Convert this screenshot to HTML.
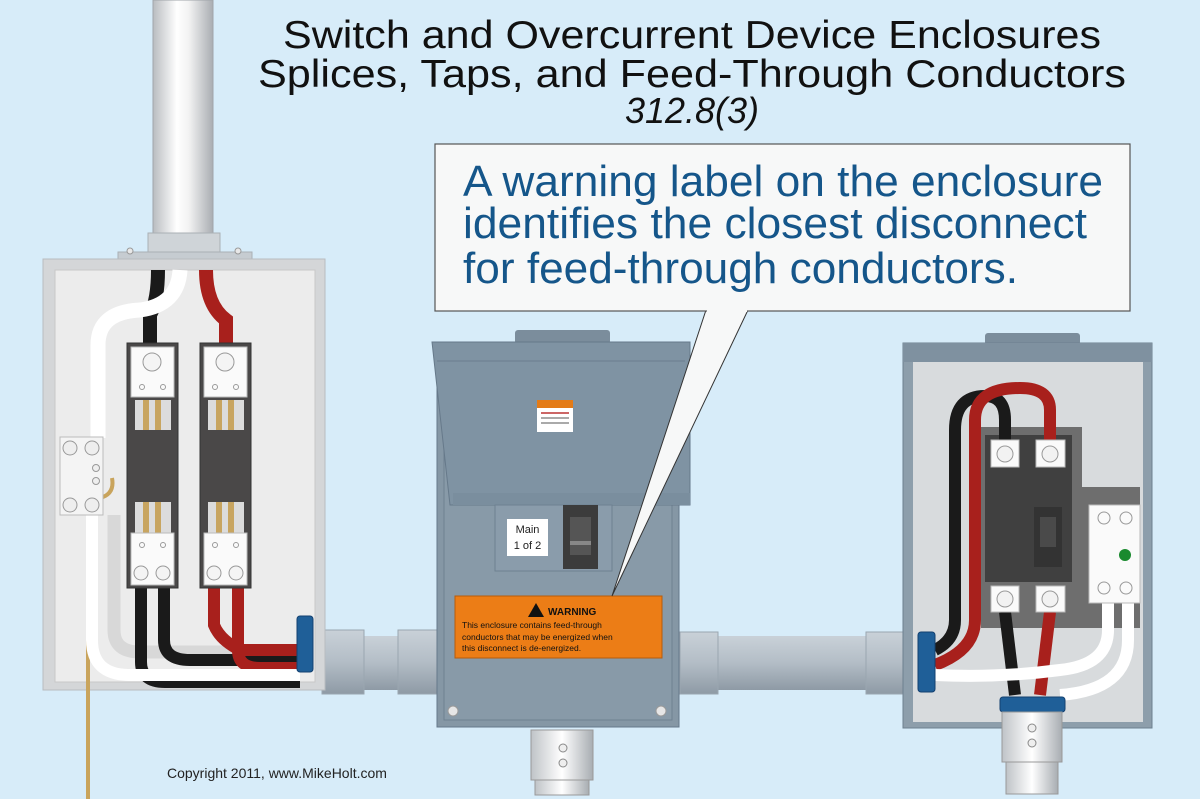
<!DOCTYPE html>
<html><head><meta charset="utf-8"><style>html,body{margin:0;padding:0;background:#d7ecf9}svg{display:block}</style></head>
<body>
<svg width="1200" height="799" viewBox="0 0 1200 799" xmlns="http://www.w3.org/2000/svg" font-family="'Liberation Sans', sans-serif">
<defs>
<linearGradient id="pipeV" x1="0" x2="1" y1="0" y2="0"><stop offset="0" stop-color="#b9bcc0"/><stop offset="0.4" stop-color="#ffffff"/><stop offset="0.6" stop-color="#f2f2f2"/><stop offset="1" stop-color="#a9adb2"/></linearGradient>
<linearGradient id="pipeH" x1="0" x2="0" y1="0" y2="1"><stop offset="0" stop-color="#c9d1d8"/><stop offset="0.5" stop-color="#b3bdc6"/><stop offset="1" stop-color="#8e9aa5"/></linearGradient>
<linearGradient id="conn" x1="0" x2="1"><stop offset="0" stop-color="#bfc3c7"/><stop offset="0.5" stop-color="#ffffff"/><stop offset="1" stop-color="#a8adb2"/></linearGradient>
</defs>
<rect width="1200" height="799" fill="#d7ecf9"/>

<text x="692" y="48" font-size="39" text-anchor="middle" fill="#111" textLength="818" lengthAdjust="spacingAndGlyphs">Switch and Overcurrent Device Enclosures</text>
<text x="692" y="87" font-size="39" text-anchor="middle" fill="#111" textLength="868" lengthAdjust="spacingAndGlyphs">Splices, Taps, and Feed-Through Conductors</text>
<text x="692" y="123" font-size="36" text-anchor="middle" fill="#111" font-style="italic">312.8(3)</text>

<rect x="310" y="636" width="600" height="54" fill="url(#pipeH)"/>
<rect x="322" y="630" width="42" height="64" fill="url(#pipeH)" stroke="#9aa6b0"/>
<rect x="398" y="630" width="42" height="64" fill="url(#pipeH)" stroke="#9aa6b0"/>
<rect x="680" y="632" width="38" height="62" fill="url(#pipeH)" stroke="#9aa6b0"/>
<rect x="866" y="632" width="40" height="62" fill="url(#pipeH)" stroke="#9aa6b0"/>

<rect x="153" y="0" width="60" height="234" fill="url(#pipeV)" stroke="#a0a5aa"/>
<rect x="148" y="233" width="72" height="20" fill="#cfd4d8" stroke="#aab0b5"/>
<rect x="118" y="252" width="134" height="9" fill="#c6ccd1" stroke="#aab0b5"/>
<circle cx="130" cy="251" r="3" fill="#e8e8e8" stroke="#999"/><circle cx="238" cy="251" r="3" fill="#e8e8e8" stroke="#999"/>

<rect x="43" y="259" width="282" height="431" fill="#d4d6d8" stroke="#b8bcc0"/>
<rect x="55" y="270" width="260" height="412" fill="#ececec" stroke="#c8c8c8"/>
<path d="M88 799 V520 Q88 500 100 498 Q115 494 112 478" stroke="#c9a45c" stroke-width="4" fill="none"/>
<path d="M158 270 Q158 300 150 315 V345" stroke="#1a1a1a" stroke-width="14" fill="none"/>
<path d="M180 270 Q178 305 140 310 Q98 312 98 345 V438" stroke="#fff" stroke-width="15" fill="none"/>
<path d="M206 270 Q206 305 226 320 V345" stroke="#a8201c" stroke-width="14" fill="none"/>
<path d="M114 515 V630 Q114 652 140 652 H300" stroke="#d8d8d8" stroke-width="13" fill="none"/>
<path d="M141 588 V662 Q141 682 165 682 H300" stroke="#1a1a1a" stroke-width="12" fill="none"/>
<path d="M164 588 V640 Q164 660 190 660 H300" stroke="#1a1a1a" stroke-width="12" fill="none"/>
<path d="M214 588 V625 Q220 640 240 650 H300" stroke="#a8201c" stroke-width="12" fill="none"/>
<path d="M238 588 V650 Q238 668 260 668 H300" stroke="#a8201c" stroke-width="12" fill="none"/>
<path d="M92 515 V640 Q92 675 130 675 H300" stroke="#fff" stroke-width="12" fill="none"/>
<rect x="60" y="437" width="43" height="78" fill="#f4f4f4" stroke="#bbb"/>
<circle cx="70" cy="448" r="7" fill="#eee" stroke="#999"/><circle cx="92" cy="448" r="7" fill="#eee" stroke="#999"/>
<circle cx="70" cy="505" r="7" fill="#eee" stroke="#999"/><circle cx="92" cy="505" r="7" fill="#eee" stroke="#999"/>
<circle cx="96" cy="468" r="3.5" fill="#eee" stroke="#999"/><circle cx="96" cy="481" r="3.5" fill="#eee" stroke="#999"/>
<g id="fb">
<rect x="127" y="343" width="51" height="245" fill="#4a4848" stroke="#333"/>
<rect x="131" y="347" width="43" height="50" fill="#fafafa" stroke="#bbb"/>
<circle cx="152" cy="362" r="9" fill="#f4f4f4" stroke="#999"/>
<circle cx="142" cy="387" r="2.5" fill="none" stroke="#999"/><circle cx="163" cy="387" r="2.5" fill="none" stroke="#999"/>
<rect x="135" y="400" width="36" height="30" fill="#dcdcdc"/>
<rect x="143" y="400" width="6" height="30" fill="#c8a560"/><rect x="155" y="400" width="6" height="30" fill="#c8a560"/>
<rect x="135" y="502" width="36" height="32" fill="#dcdcdc"/>
<rect x="143" y="502" width="6" height="32" fill="#c8a560"/><rect x="155" y="502" width="6" height="32" fill="#c8a560"/>
<rect x="131" y="533" width="43" height="52" fill="#fafafa" stroke="#bbb"/>
<circle cx="142" cy="545" r="2.5" fill="none" stroke="#999"/><circle cx="163" cy="545" r="2.5" fill="none" stroke="#999"/>
<circle cx="141" cy="573" r="7" fill="#f4f4f4" stroke="#999"/><circle cx="163" cy="573" r="7" fill="#f4f4f4" stroke="#999"/>
</g>
<use href="#fb" x="73"/>
<rect x="297" y="616" width="16" height="56" rx="3" fill="#1f5f98" stroke="#134070"/>

<rect x="515" y="330" width="95" height="14" rx="3" fill="#7b8d9c"/>
<rect x="437" y="342" width="242" height="385" fill="#8597a5" stroke="#65788a"/>
<rect x="444" y="350" width="228" height="370" fill="#889aa8" stroke="#6e8191"/>
<polygon points="432,342 690,342 690,505 450,505" fill="#7f93a3" stroke="#66798a"/>
<line x1="437" y1="361" x2="685" y2="361" stroke="#6b7e8f"/>
<rect x="453" y="493" width="237" height="12" fill="#7a8e9e"/>
<rect x="495" y="505" width="117" height="66" fill="#8a9cab" stroke="#6e8191"/>
<rect x="507" y="519" width="41" height="37" fill="#fff"/>
<text x="527.5" y="533" font-size="11" text-anchor="middle" fill="#222">Main</text>
<text x="527.5" y="549" font-size="11" text-anchor="middle" fill="#222">1 of 2</text>
<rect x="563" y="505" width="35" height="64" fill="#3c3c3c"/>
<rect x="570" y="517" width="21" height="38" fill="#555"/>
<rect x="570" y="541" width="21" height="4" fill="#888"/>
<rect x="537" y="400" width="36" height="32" fill="#fff"/>
<rect x="537" y="400" width="36" height="8" fill="#e47b17"/>
<rect x="541" y="412" width="28" height="2" fill="#c66"/><rect x="541" y="417" width="28" height="2" fill="#aaa"/><rect x="541" y="422" width="28" height="2" fill="#aaa"/>
<rect x="455" y="596" width="207" height="62" fill="#ec7d16" stroke="#b85c0a"/>
<polygon points="528,617 536,603 544,617" fill="#111"/>
<text x="548" y="615" font-size="10" font-weight="bold" fill="#111">WARNING</text>
<text x="462" y="628" font-size="8.5" fill="#111">This enclosure contains feed-through</text>
<text x="462" y="640" font-size="8.5" fill="#111">conductors that may be energized when</text>
<text x="462" y="651" font-size="8.5" fill="#111">this disconnect is de-energized.</text>
<circle cx="453" cy="711" r="5" fill="#e6e6e6" stroke="#999"/><circle cx="661" cy="711" r="5" fill="#e6e6e6" stroke="#999"/>
<rect x="531" y="730" width="62" height="50" fill="url(#conn)" stroke="#999"/>
<rect x="535" y="780" width="54" height="15" fill="url(#conn)" stroke="#999"/>
<circle cx="563" cy="748" r="4" fill="#eee" stroke="#888"/><circle cx="563" cy="763" r="4" fill="#eee" stroke="#888"/>

<rect x="985" y="333" width="95" height="12" rx="3" fill="#7b8d9c"/>
<rect x="903" y="343" width="249" height="385" fill="#8d9eab" stroke="#6d808f"/>
<rect x="903" y="343" width="249" height="19" fill="#7f91a0"/>
<rect x="913" y="362" width="230" height="360" fill="#d8dbdd"/>
<rect x="981" y="427" width="101" height="201" fill="#6e6e6e"/>
<rect x="1082" y="487" width="58" height="141" fill="#6e6e6e"/>
<rect x="985" y="435" width="87" height="147" fill="#404040"/>
<rect x="1034" y="507" width="28" height="60" fill="#333"/>
<rect x="1040" y="517" width="16" height="30" fill="#4a4a4a"/>
<path d="M1005 440 V420 Q1005 396 985 396 Q955 396 955 430 V620 Q955 640 935 650" stroke="#1a1a1a" stroke-width="12" fill="none"/>
<path d="M1050 440 V410 Q1050 388 1020 388 Q975 388 975 420 V620 Q975 650 935 665" stroke="#a8201c" stroke-width="12" fill="none"/>
<path d="M1005 612 L1015 695" stroke="#1a1a1a" stroke-width="12" fill="none"/>
<path d="M1050 612 L1040 695" stroke="#a8201c" stroke-width="12" fill="none"/>
<path d="M1108 603 V630 Q1108 665 1060 670 Q1000 678 935 675" stroke="#fff" stroke-width="12" fill="none"/>
<path d="M1128 603 V640 Q1128 690 1060 695" stroke="#fff" stroke-width="12" fill="none"/>
<rect x="991" y="440" width="28" height="27" fill="#fafafa" stroke="#bbb"/><circle cx="1005" cy="454" r="8" fill="#f2f2f2" stroke="#999"/>
<rect x="1036" y="440" width="29" height="27" fill="#fafafa" stroke="#bbb"/><circle cx="1050" cy="454" r="8" fill="#f2f2f2" stroke="#999"/>
<rect x="991" y="586" width="28" height="26" fill="#fafafa" stroke="#bbb"/><circle cx="1005" cy="599" r="8" fill="#f2f2f2" stroke="#999"/>
<rect x="1036" y="586" width="29" height="26" fill="#fafafa" stroke="#bbb"/><circle cx="1050" cy="599" r="8" fill="#f2f2f2" stroke="#999"/>
<rect x="1089" y="505" width="51" height="98" fill="#fafafa" stroke="#bbb"/>
<circle cx="1104" cy="518" r="6" fill="none" stroke="#999"/><circle cx="1126" cy="518" r="6" fill="none" stroke="#999"/>
<circle cx="1104" cy="588" r="6" fill="none" stroke="#999"/><circle cx="1126" cy="588" r="6" fill="none" stroke="#999"/>
<circle cx="1125" cy="555" r="6" fill="#1a8a2e"/>
<rect x="918" y="632" width="17" height="60" rx="3" fill="#1f5f98" stroke="#134070"/>
<rect x="1000" y="697" width="65" height="15" rx="3" fill="#1f5f98" stroke="#134070"/>
<rect x="1002" y="712" width="60" height="50" fill="url(#conn)" stroke="#999"/>
<rect x="1006" y="762" width="52" height="32" fill="url(#conn)" stroke="#999"/>
<circle cx="1032" cy="728" r="4" fill="#eee" stroke="#888"/><circle cx="1032" cy="743" r="4" fill="#eee" stroke="#888"/>

<polygon points="706,310 748,310 612,596" fill="#f7f8f8" stroke="#333" stroke-width="1"/>
<rect x="435" y="144" width="695" height="167" fill="#f7f8f8" stroke="#555" stroke-width="1.2"/>
<line x1="707" y1="311" x2="747" y2="311" stroke="#f7f8f8" stroke-width="2"/>
<g fill="#15568a" font-size="44">
<text x="463" y="196" textLength="640" lengthAdjust="spacingAndGlyphs">A warning label on the enclosure</text>
<text x="463" y="238" textLength="624" lengthAdjust="spacingAndGlyphs">identifies the closest disconnect</text>
<text x="463" y="283" textLength="555" lengthAdjust="spacingAndGlyphs">for feed-through conductors.</text>
</g>

<text x="167" y="778" font-size="14" fill="#222">Copyright 2011, www.MikeHolt.com</text>
</svg>
</body></html>
